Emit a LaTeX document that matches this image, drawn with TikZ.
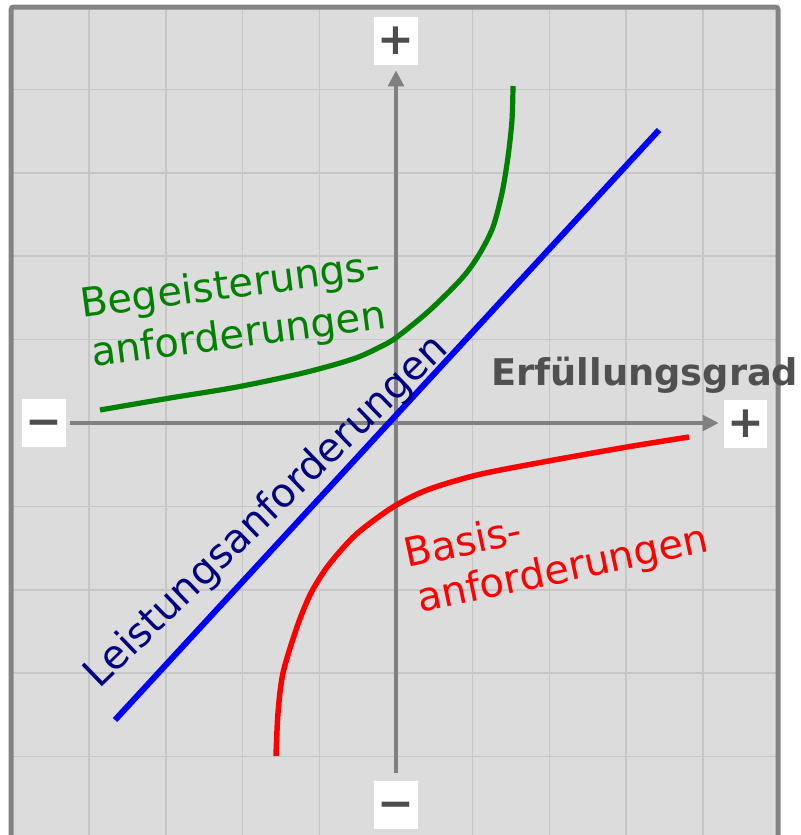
\documentclass[tikz,border=0pt]{standalone}
\usepackage{fontspec}
\setmainfont{DejaVu Sans}
\usetikzlibrary{arrows.meta}
\definecolor{bgc}{HTML}{DCDCDC}
\definecolor{gridc}{HTML}{C6C6C6}
\definecolor{framec}{HTML}{838383}
\definecolor{axisc}{HTML}{808080}
\definecolor{signc}{HTML}{4D4D4D}
\definecolor{titlec}{HTML}{505050}
\definecolor{greenc}{HTML}{008000}
\definecolor{redc}{HTML}{FF0000}
\definecolor{bluec}{HTML}{0000FF}
\definecolor{navyc}{HTML}{000080}
\begin{document}
\begin{tikzpicture}[x=0.75pt,y=-0.75pt,
  signbox/.style={fill=white, minimum width=33pt, minimum height=36pt, inner sep=0pt,
    text=signc, font=\fontsize{33}{33}\selectfont\bfseries, text height=20.5pt, text depth=0pt},
  axisline/.style={draw=axisc, line width=3pt, -{Triangle[length=12pt,width=11.5pt]}},
  curve/.style={line width=4pt, line cap=butt},
  lbl/.style={font=\fontsize{30}{30}\selectfont, inner sep=0pt, anchor=base west}]
\useasboundingbox (0,0) rectangle (800,835);
\clip (0,0) rectangle (800,835);
\fill[white] (0,0) rectangle (800,835);
\fill[bgc] (11,7) rectangle (778,860);
% grid
\foreach \gx in {89.2,165.9,242.6,319.3,472.7,549.4,626.1,702.8}
  \draw[gridc, line width=1.1pt] (\gx,7) -- (\gx,860);
\foreach \gy in {89.4,172.8,256.2,339.6,506.4,589.8,673.2,756.6}
  \draw[gridc, line width=1.1pt] (11,\gy) -- (778,\gy);
\draw[framec, line width=3.75pt, rounded corners=2pt] (11,870) -- (11,7) -- (778,7) -- (778,870);
% sign boxes
\node[signbox] (yplus) at (396,41) {+};
\node[signbox] (yminus) at (396,805) {−};
\node[signbox] (xminus) at (44,423) {−};
\node[signbox, minimum width=32.25pt] (xplus) at (745.5,423.5) {+};
% axes
\draw[axisline, shorten <=3pt, shorten >=3.75pt] (xminus.east |- 0,423) -- (xplus.west |- 0,423);
\draw[axisline, shorten <=6pt, shorten >=3.75pt] (yminus.north) -- (yplus.south);
% curves
\draw[curve, greenc, line width=3.9pt] plot[smooth] coordinates {(100,410) (170,398) (237,387) (303,373) (353,359) (380,347) (397,337) (430,310) (463,277) (480,253) (493,227) (502,193) (508,157) (512,120) (513,86)};
\draw[curve, redc, line width=4.1pt] plot[smooth] coordinates {(276,756) (278,713) (283,673) (297,627) (310,595) (325,570) (342,549) (360,531) (393,507) (427,490) (477,475) (543,462) (627,447) (689,437)};
\coordinate (bl0) at (115,720);
\coordinate (bl1) at (659,130);
\draw[curve, bluec, line width=4.5pt] (bl0) -- (bl1);
% labels
\node[lbl, text=greenc, rotate=7.5] (g1) at (82,318) {Begeisterungs-};
\node[lbl, text=greenc, rotate=7.5] (g2) at (93,367) {anforderungen};
\node[lbl, text=redc, rotate=12] (r1) at (407,568) {Basis-};
\node[lbl, text=redc, rotate=12] (r2) at (420,613) {anforderungen};
\node[lbl, text=navyc, rotate=44] (b1) at (99,690) {Leistungsanforderungen};
\node[lbl, text=titlec, font=\fontsize{27.6}{27.6}\selectfont\bfseries] (title) at (491,385) {Erfüllungsgrad};
\end{tikzpicture}
\end{document}
